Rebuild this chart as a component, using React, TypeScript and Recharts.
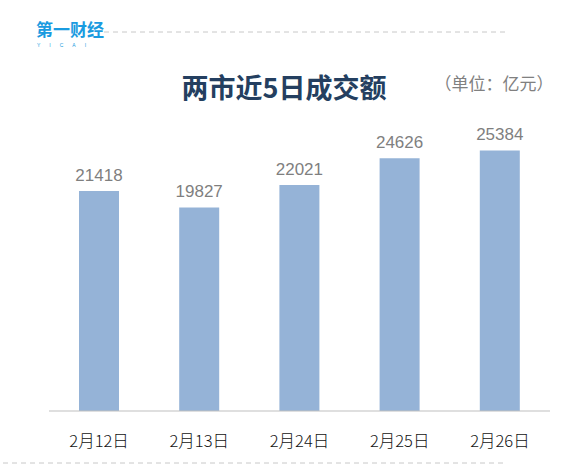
import React from "react";
import { BarChart, Bar, XAxis, YAxis, LabelList } from "recharts";

const dates = ["2月12日", "2月13日", "2月24日", "2月25日", "2月26日"];
const turnover = [21418, 19827, 22021, 24626, 25384];

const data = dates.map((d, i) => ({ date: d, value: turnover[i] }));

const CJK = '"Microsoft YaHei", "Noto Sans CJK SC", sans-serif';

function DateTick(props: any) {
  const { x, y, payload } = props;
  return (
    <text x={x} y={y + 28} textAnchor="middle" fill="#111" fontSize={16.5} fontWeight={300} fontFamily={CJK}>
      {payload.value}
    </text>
  );
}

export default function App() {
  return (
    <div style={{ position: "absolute", left: 0, top: 0, width: 587, height: 472, background: "#fff" }}>
      <svg width={587} height={472} style={{ position: "absolute", left: 0, top: 0 }}>
        {/* logo */}
        <text x={36} y={36} fill="#1a9be0" fontSize={17} fontWeight="bold" fontFamily={CJK}>
          第一财经
        </text>
        <text x={37} y={47} fill="#1a9be0" fontSize={5} letterSpacing={9} fontFamily="Arial, sans-serif">
          YICAI
        </text>
        <line x1={104} y1={32} x2={507} y2={32} stroke="#c8c8c8" strokeDasharray="5 4" />
        <line x1={3} y1={463} x2={507} y2={463} stroke="#c8c8c8" strokeDasharray="5 4" />
        <text x={284} y={98} textAnchor="middle" fill="#243f60" fontSize={27} fontWeight="bold" fontFamily={CJK}>
          两市近5日成交额
        </text>
        <text x={494} y={90} textAnchor="middle" fill="#808080" fontSize={17} fontFamily={CJK}>
          （单位：亿元）
        </text>
      </svg>
      <BarChart
        width={587}
        height={472}
        data={data}
        margin={{ top: 103, right: 37, bottom: 31, left: 49 }}
        barSize={40}
        style={{ position: "absolute", left: 0, top: 0 }}
      >
        <XAxis
          dataKey="date"
          height={30}
          axisLine={{ stroke: "#bfbfbf" }}
          tickLine={false}
          tick={<DateTick />}
          interval={0}
        />
        <YAxis hide domain={[0, 30000]} />
        <Bar dataKey="value" fill="#95b3d7" isAnimationActive={false}>
          <LabelList
            dataKey="value"
            position="top"
            offset={10}
            fill="#7f7f7f"
            fontSize={17}
            fontFamily='"Liberation Sans", Arial, sans-serif'
          />
        </Bar>
      </BarChart>
    </div>
  );
}
